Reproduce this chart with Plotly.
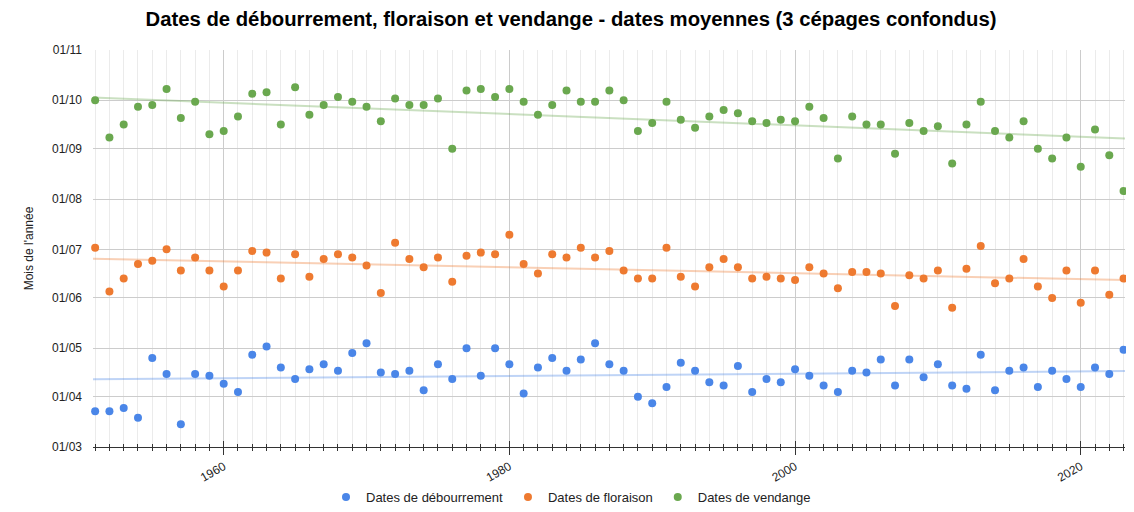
import numpy as np
import pandas as pd
import plotly.graph_objects as go

years = list(range(1951, 2024))

debourrement = [
    "03-23", "03-23", "03-25", "03-19", "04-25", "04-15", "03-15", "04-15", "04-14", "04-09",
    "04-04", "04-27", "05-02", "04-19", "04-12", "04-18", "04-21", "04-17", "04-28", "05-04",
    "04-16", "04-15", "04-17", "04-05", "04-21", "04-12", "05-01", "04-14", "05-01", "04-21",
    "04-03", "04-19", "04-25", "04-17", "04-24", "05-04", "04-21", "04-17", "04-01", "03-28",
    "04-07", "04-22", "04-17", "04-10", "04-08", "04-20", "04-04", "04-12", "04-10", "04-18",
    "04-14", "04-08", "04-04", "04-17", "04-16", "04-24", "04-08", "04-24", "04-13", "04-21",
    "04-08", "04-06", "04-27", "04-05", "04-17", "04-19", "04-07", "04-17", "04-12", "04-07",
    "04-19", "04-15", "04-30",
]

floraison = [
    "07-02", "06-05", "06-13", "06-22", "06-24", "07-01", "06-18", "06-26", "06-18", "06-08",
    "06-18", "06-30", "06-29", "06-13", "06-28", "06-14", "06-25", "06-28", "06-26", "06-21",
    "06-04", "07-05", "06-25", "06-20", "06-26", "06-11", "06-27", "06-29", "06-28", "07-10",
    "06-22", "06-16", "06-28", "06-26", "07-02", "06-26", "06-30", "06-18", "06-13", "06-13",
    "07-02", "06-14", "06-08", "06-20", "06-25", "06-20", "06-13", "06-14", "06-13", "06-12",
    "06-20", "06-16", "06-07", "06-17", "06-17", "06-16", "05-27", "06-15", "06-13", "06-18",
    "05-26", "06-19", "07-03", "06-10", "06-13", "06-25", "06-08", "06-01", "06-18", "05-29",
    "06-18", "06-03", "06-13",
]

vendange = [
    "10-01", "09-08", "09-16", "09-27", "09-28", "10-08", "09-20", "09-30", "09-10", "09-12",
    "09-21", "10-05", "10-06", "09-16", "10-09", "09-22", "09-28", "10-03", "09-30", "09-27",
    "09-18", "10-02", "09-28", "09-28", "10-02", "09-01", "10-07", "10-08", "10-03", "10-08",
    "09-30", "09-22", "09-28", "10-07", "09-30", "09-30", "10-07", "10-01", "09-12", "09-17",
    "09-30", "09-19", "09-14", "09-21", "09-25", "09-23", "09-18", "09-17", "09-19", "09-18",
    "09-27", "09-20", "08-26", "09-21", "09-16", "09-16", "08-29", "09-17", "09-12", "09-15",
    "08-23", "09-16", "09-30", "09-12", "09-08", "09-18", "09-01", "08-26", "09-08", "08-21",
    "09-13", "08-28", "08-06",
]

series_names = ["Dates de débourrement", "Dates de floraison", "Dates de vendange"]
series_colors = ["#4a86e8", "#ee7a30", "#6aa84f"]
y_tick_labels = ["01/03", "01/04", "01/05", "01/06", "01/07", "01/08", "01/09", "01/10", "01/11"]
x_tick_labels = ["1960", "1980", "2000", "2020"]

BASE = "2001-"
ref = pd.Timestamp("2001-01-01")
XR = [1950.85, 2023.1]

# the page body has an 8px margin, so the figure is drawn 8px smaller
W, H = 1126, 504

fig = go.Figure()
yr = np.array(years, dtype=float)
for name, color, vals in zip(series_names, series_colors, [debourrement, floraison, vendange]):
    dates = pd.to_datetime([BASE + v for v in vals])
    days = np.array([(d - ref).days for d in dates], dtype=float)
    k, b = np.polyfit(yr, days, 1)
    xs = np.array(XR)
    trend = [ref + pd.Timedelta(days=float(k * x + b)) for x in xs]
    fig.add_trace(go.Scatter(
        x=xs, y=trend, mode="lines", showlegend=False, hoverinfo="skip",
        line=dict(color=color, width=2), opacity=0.35,
    ))
for name, color, vals in zip(series_names, series_colors, [debourrement, floraison, vendange]):
    dates = pd.to_datetime([BASE + v for v in vals])
    fig.add_trace(go.Scatter(
        x=years, y=dates, mode="markers", name=name, cliponaxis=False,
        marker=dict(color=color, size=8),
    ))

# second x axis to give crossing tick marks
fig.add_trace(go.Scatter(x=[1951], y=[pd.Timestamp("2001-03-01")], xaxis="x2",
                         mode="markers", marker=dict(opacity=0), showlegend=False, hoverinfo="skip"))

tickvals_y = pd.to_datetime([BASE + t.split("/")[1] + "-" + t.split("/")[0] for t in y_tick_labels])

fig.update_layout(
    width=W, height=H,
    margin=dict(l=85, r=9, t=42, b=65, autoexpand=False),
    paper_bgcolor="white", plot_bgcolor="white",
    font=dict(family="Liberation Sans, Arial, sans-serif", size=12, color="#222"),
    title=dict(text="<b>Dates de débourrement, floraison et vendange - dates moyennes (3 cépages confondus)</b>",
               x=0.5, xanchor="center", y=1 - 11 / H, yanchor="middle", yref="container",
               font=dict(size=20.3, color="#000")),
    xaxis=dict(
        range=XR, tickmode="array", tickvals=[int(t) for t in x_tick_labels],
        ticktext=x_tick_labels, tickangle=-30, ticks="outside", ticklen=7, tickcolor="#333",
        showgrid=True, gridcolor="#cccccc", gridwidth=1, zeroline=False, automargin=False,
        showline=True, linecolor="#333", linewidth=1.2,
        minor=dict(dtick=1, tick0=1951, ticks="outside", ticklen=3, tickcolor="#333",
                   showgrid=True, gridcolor="#ebebeb"),
        tickfont=dict(size=12, color="#222"),
    ),
    xaxis2=dict(
        overlaying="x", side="bottom", range=XR, anchor="y", automargin=False,
        tickmode="array", tickvals=[1960, 1980, 2000, 2020], ticks="inside", ticklen=6,
        tickcolor="#333", showticklabels=False, showgrid=False, zeroline=False,
        minor=dict(dtick=1, tick0=1951, ticks="inside", ticklen=3, tickcolor="#333", showgrid=False),
    ),
    yaxis=dict(
        type="date", range=["2001-03-01", "2001-11-01"], tickmode="array",
        tickvals=tickvals_y, ticktext=y_tick_labels, automargin=False,
        showgrid=True, gridcolor="#cccccc", zeroline=False, showline=False,
        title=dict(text="Mois de l'année", font=dict(size=12, color="#222")),
        tickfont=dict(size=12, color="#222"), ticks="", ticklabelstandoff=10,
    ),
    legend=dict(orientation="h", xref="container", x=0.5, xanchor="center", y=-0.126, yanchor="middle",
                font=dict(size=13, color="#222"), itemwidth=30),
    showlegend=True,
)

fig.write_html("out.html")
